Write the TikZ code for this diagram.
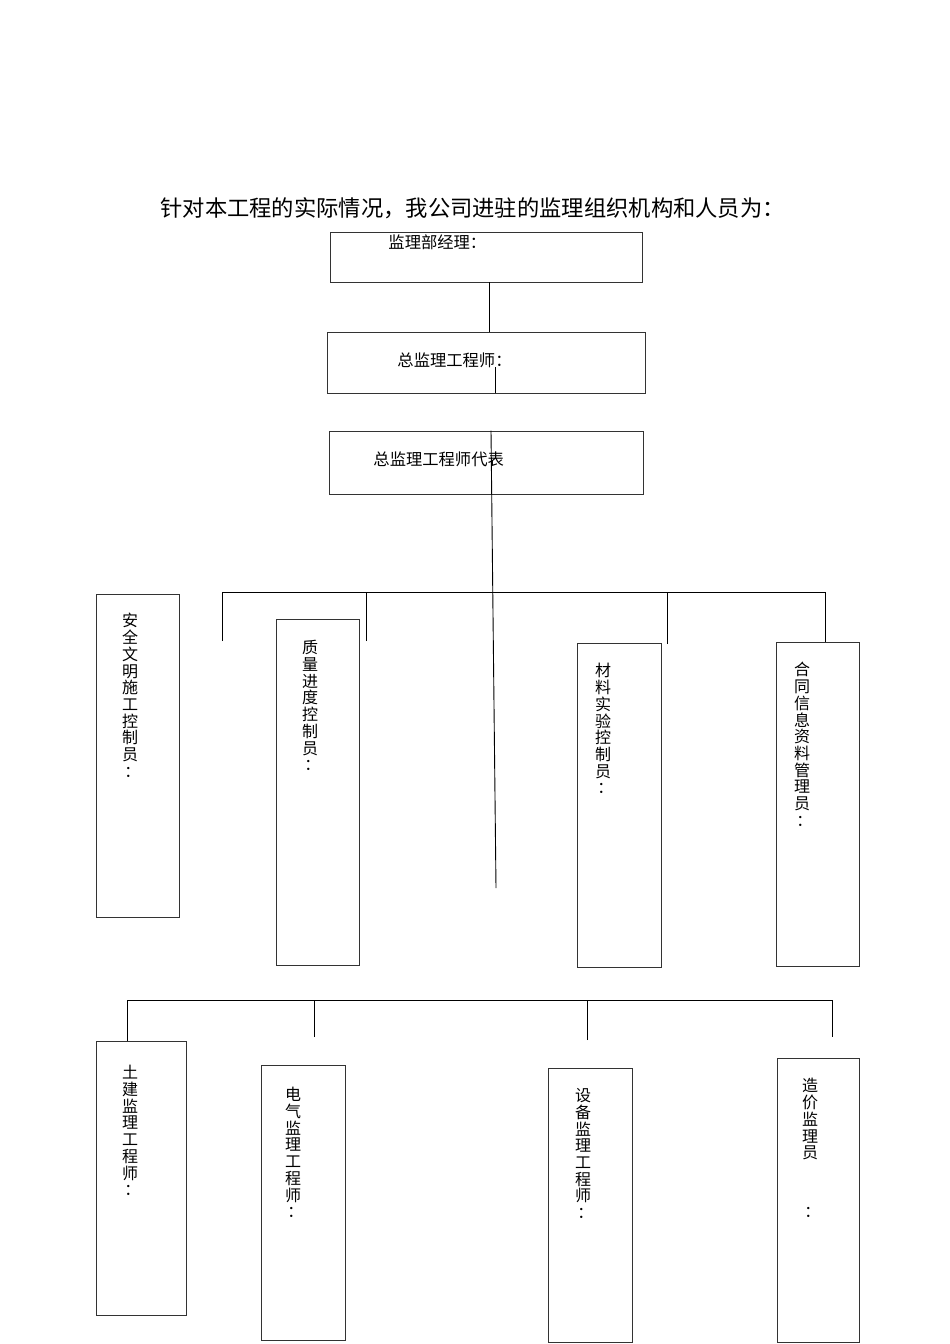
\documentclass[tikz,border=0pt]{standalone}
\usepackage{fontspec}
\setmainfont{Noto Sans CJK SC}
\tikzset{
  box/.style={draw=black!80, line width=0.9pt, inner sep=0pt},
  vtext/.style={align=center, inner sep=0pt, anchor=north, font=\fontsize{16}{16.7}\selectfont},
  htext/.style={inner sep=0pt, anchor=west, font=\fontsize{16.3}{18}\selectfont},
}
\begin{document}
\begin{tikzpicture}[x=1pt,y=-1pt,line width=0.9pt]
    \useasboundingbox (0,0) rectangle (950,1344);
    \node[inner sep=0pt,anchor=west,font=\fontsize{22.3}{24}\selectfont] (title) at (160,208) {针对本工程的实际情况，我公司进驻的监理组织机构和人员为：};
    % upper part
    \node[box,minimum width=312pt,minimum height=50pt] (mgr) at (486,257) {};
    \node[box,minimum width=318pt,minimum height=61pt] (chief) at (486,362.5) {};
    \node[box,minimum width=314pt,minimum height=63pt] (deputy) at (486,462.5) {};
    \node[htext] (mgrT) at (388,242) {监理部经理：};
    \node[htext] (chiefT) at (397,360) {总监理工程师：};
    \node[htext] (deputyT) at (373,459) {总监理工程师代表};
    \coordinate (tail) at (496,888);
    \draw ([xshift=3pt]mgr.south) -- ([xshift=3pt]chief.north);
    \draw ([xshift=9pt]chief.south) -- ++(0,-26);
    \draw ([xshift=5pt]deputy.north) -- (tail);
    % middle row
    \node[box,minimum width=83pt,minimum height=323pt] (safety) at (137.5,755.5) {};
    \node[box,minimum width=83pt,minimum height=346pt] (quality) at (317.5,792) {};
    \node[box,minimum width=84pt,minimum height=324pt] (material) at (619,805) {};
    \node[box,minimum width=83pt,minimum height=324pt] (info) at (817.5,804) {};
    \node[vtext] (safetyT) at (130,613) {安\\全\\文\\明\\施\\工\\控\\制\\员\\\kern0.3em：};
    \node[vtext] (qualityT) at (310,640) {质\\量\\进\\度\\控\\制\\员\\\kern0.3em：};
    \node[vtext] (materialT) at (603,663) {材\\料\\实\\验\\控\\制\\员\\\kern0.3em：};
    \node[vtext] (infoT) at (802,662) {合\\同\\信\\息\\资\\料\\管\\理\\员\\\kern0.3em：};
    \coordinate (ubusL) at (222,592);
    \coordinate (ubusR) at (825,592);
    \coordinate (dropA) at (222,641);
    \coordinate (dropB) at (366,641);
    \coordinate (dropC) at (667,644);
    \draw (dropA) -- (ubusL) -- (ubusR) -- (ubusR |- info.north);
    \draw (dropB) -- (dropB |- ubusL);
    \draw (dropC) -- (dropC |- ubusL);
    % lower row
    \node[box,minimum width=90pt,minimum height=274pt] (civil) at (141,1178) {};
    \node[box,minimum width=84pt,minimum height=275pt] (elec) at (303,1202.5) {};
    \node[box,minimum width=84pt,minimum height=274pt] (equip) at (590,1205) {};
    \node[box,minimum width=82pt,minimum height=284pt] (cost) at (818,1200) {};
    \node[vtext] (civilT) at (130,1065) {土\\建\\监\\理\\工\\程\\师\\\kern0.3em：};
    \node[vtext] (elecT) at (293,1087) {电\\气\\监\\理\\工\\程\\师\\\kern0.3em：};
    \node[vtext] (equipT) at (583,1088) {设\\备\\监\\理\\工\\程\\师\\\kern0.3em：};
    \node[vtext] (costT) at (810,1078) {造\\价\\监\\理\\员\\[2.6em]\kern0.3em：};
    \coordinate (lbusL) at (127,1000);
    \coordinate (lbusR) at (832,1000);
    \coordinate (dropD) at (314,1037);
    \coordinate (dropE) at (587,1040);
    \coordinate (dropF) at (832,1037);
    \draw (civil.north -| lbusL) -- (lbusL) -- (lbusR) -- (dropF);
    \draw (dropD) -- (dropD |- lbusL);
    \draw (dropE) -- (dropE |- lbusL);
\end{tikzpicture}
\end{document}
